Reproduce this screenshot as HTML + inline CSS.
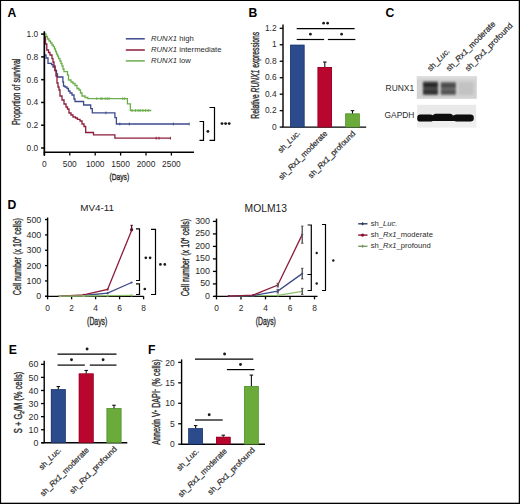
<!DOCTYPE html>
<html><head><meta charset="utf-8"><style>
html,body{margin:0;padding:0;background:#fff;}
body{width:520px;height:504px;overflow:hidden;}
svg{display:block;font-family:"Liberation Sans", sans-serif;}
text.sk{stroke:#2a2a2a;stroke-width:0.2px;paint-order:stroke;}
text.sk2{stroke:#2a2a2a;stroke-width:0.35px;paint-order:stroke;}
</style></head><body>
<svg width="520" height="504" viewBox="0 0 520 504">
<rect x="0" y="0" width="520" height="504" fill="#fff"/>
<text x="7.6" y="16.9" font-size="12.2" text-anchor="start" fill="#000" font-weight="bold" >A</text>
<line x1="44.4" y1="31.5" x2="44.4" y2="155.5" stroke="#000" stroke-width="1.4"/>
<line x1="43.8" y1="152.3" x2="194" y2="152.3" stroke="#000" stroke-width="1.4"/>
<line x1="41.1" y1="148.0" x2="44.4" y2="148.0" stroke="#000" stroke-width="1.5"/>
<text x="38.2" y="151.0" font-size="8.4" text-anchor="end" fill="#2a2a2a" font-weight="normal" >0.0</text>
<line x1="41.1" y1="125.22" x2="44.4" y2="125.22" stroke="#000" stroke-width="1.5"/>
<text x="38.2" y="128.22" font-size="8.4" text-anchor="end" fill="#2a2a2a" font-weight="normal" >0.2</text>
<line x1="41.1" y1="102.44" x2="44.4" y2="102.44" stroke="#000" stroke-width="1.5"/>
<text x="38.2" y="105.44" font-size="8.4" text-anchor="end" fill="#2a2a2a" font-weight="normal" >0.4</text>
<line x1="41.1" y1="79.65999999999998" x2="44.4" y2="79.65999999999998" stroke="#000" stroke-width="1.5"/>
<text x="38.2" y="82.65999999999998" font-size="8.4" text-anchor="end" fill="#2a2a2a" font-weight="normal" >0.6</text>
<line x1="41.1" y1="56.879999999999995" x2="44.4" y2="56.879999999999995" stroke="#000" stroke-width="1.5"/>
<text x="38.2" y="59.879999999999995" font-size="8.4" text-anchor="end" fill="#2a2a2a" font-weight="normal" >0.8</text>
<line x1="41.1" y1="34.099999999999994" x2="44.4" y2="34.099999999999994" stroke="#000" stroke-width="1.5"/>
<text x="38.2" y="37.099999999999994" font-size="8.4" text-anchor="end" fill="#2a2a2a" font-weight="normal" >1.0</text>
<line x1="44.4" y1="152.3" x2="44.4" y2="155.6" stroke="#000" stroke-width="1.3"/>
<text x="44.4" y="166.8" font-size="8.4" text-anchor="middle" fill="#2a2a2a" font-weight="normal" >0</text>
<line x1="69.8" y1="152.3" x2="69.8" y2="155.6" stroke="#000" stroke-width="1.3"/>
<text x="69.8" y="166.8" font-size="8.4" text-anchor="middle" fill="#2a2a2a" font-weight="normal" >500</text>
<line x1="95.19999999999999" y1="152.3" x2="95.19999999999999" y2="155.6" stroke="#000" stroke-width="1.3"/>
<text x="95.19999999999999" y="166.8" font-size="8.4" text-anchor="middle" fill="#2a2a2a" font-weight="normal" >1000</text>
<line x1="120.6" y1="152.3" x2="120.6" y2="155.6" stroke="#000" stroke-width="1.3"/>
<text x="120.6" y="166.8" font-size="8.4" text-anchor="middle" fill="#2a2a2a" font-weight="normal" >1500</text>
<line x1="146.0" y1="152.3" x2="146.0" y2="155.6" stroke="#000" stroke-width="1.3"/>
<text x="146.0" y="166.8" font-size="8.4" text-anchor="middle" fill="#2a2a2a" font-weight="normal" >2000</text>
<line x1="171.4" y1="152.3" x2="171.4" y2="155.6" stroke="#000" stroke-width="1.3"/>
<text x="171.4" y="166.8" font-size="8.4" text-anchor="middle" fill="#2a2a2a" font-weight="normal" >2500</text>
<text x="119.3" y="180.3" font-size="9.8" text-anchor="middle" fill="#2a2a2a" font-weight="normal" class="sk2" textLength="19.8" lengthAdjust="spacingAndGlyphs">(Days)</text>
<text transform="translate(19.9,91.85) rotate(-90)" x="0" y="0" font-size="10.0" text-anchor="middle" fill="#2a2a2a" textLength="66.5" lengthAdjust="spacingAndGlyphs" font-weight="normal" class="sk2">Proportion of survival</text>
<path d="M44.5,34H46V36.5H47.5V39H49V41H50.5V43H52V45H53.3V46.7H54.5V49H55.5V51.5H56.5V54H57.5V56H58.5V58.5H59.9V61H61V63.5H62V66H63V69H64V71.7H67.5V75H68.5V80H71V82H73V83.5H75V85.5H77V88.5H79V90H80.5V93H82V96H85V97.5H87.8V98.6H127.4V103.9H130.4V110.5H151.3V110.5" fill="none" stroke="#6cae4c" stroke-width="1.3" stroke-linejoin="miter"/>
<path d="M44.5,55H46V58H48V63.3H51.5V64.5H53V67H55V70.5H56.5V74H57.5V77H62.9V82H63.5V86H65V87H67V88.5H68.5V91H70V93H72V95H74V99H75V101.5H83.6V105H90.7V108.7H92.3V112.9H114.9V117.6H116.4V124.0H189.2V124.0" fill="none" stroke="#3d4a8c" stroke-width="1.3" stroke-linejoin="miter"/>
<path d="M44.5,37H45.5V44H46.8V50H48.5V52.5H50V55H52V58.6H53V62H54V66H55V70.5H56V76H57V83H58V87H59V90H60V96H62V100H64V104H66V107H67.5V109H69V113H71V115H73V117H75.5V118H77.4V119.4H80V121H82V124H84V126.5H85.7V132.5H93.5V134.9H114.9V138.2H170.5V138.2" fill="none" stroke="#8c1c3a" stroke-width="1.3" stroke-linejoin="miter"/>
<line x1="96.8" y1="97.19999999999999" x2="96.8" y2="100.0" stroke="#6cae4c" stroke-width="0.9"/>
<line x1="100.9" y1="97.19999999999999" x2="100.9" y2="100.0" stroke="#6cae4c" stroke-width="0.9"/>
<line x1="102.2" y1="97.19999999999999" x2="102.2" y2="100.0" stroke="#6cae4c" stroke-width="0.9"/>
<line x1="105.2" y1="97.19999999999999" x2="105.2" y2="100.0" stroke="#6cae4c" stroke-width="0.9"/>
<line x1="107.2" y1="97.19999999999999" x2="107.2" y2="100.0" stroke="#6cae4c" stroke-width="0.9"/>
<line x1="109" y1="97.19999999999999" x2="109" y2="100.0" stroke="#6cae4c" stroke-width="0.9"/>
<line x1="122.7" y1="97.19999999999999" x2="122.7" y2="100.0" stroke="#6cae4c" stroke-width="0.9"/>
<line x1="124.7" y1="97.19999999999999" x2="124.7" y2="100.0" stroke="#6cae4c" stroke-width="0.9"/>
<line x1="132.1" y1="109.1" x2="132.1" y2="111.9" stroke="#6cae4c" stroke-width="0.9"/>
<line x1="135.5" y1="109.1" x2="135.5" y2="111.9" stroke="#6cae4c" stroke-width="0.9"/>
<line x1="138.2" y1="109.1" x2="138.2" y2="111.9" stroke="#6cae4c" stroke-width="0.9"/>
<line x1="140.2" y1="109.1" x2="140.2" y2="111.9" stroke="#6cae4c" stroke-width="0.9"/>
<line x1="142.9" y1="109.1" x2="142.9" y2="111.9" stroke="#6cae4c" stroke-width="0.9"/>
<line x1="145.6" y1="109.1" x2="145.6" y2="111.9" stroke="#6cae4c" stroke-width="0.9"/>
<line x1="148.3" y1="109.1" x2="148.3" y2="111.9" stroke="#6cae4c" stroke-width="0.9"/>
<line x1="119.8" y1="122.6" x2="119.8" y2="125.4" stroke="#3d4a8c" stroke-width="0.9"/>
<line x1="129.3" y1="122.6" x2="129.3" y2="125.4" stroke="#3d4a8c" stroke-width="0.9"/>
<line x1="173.4" y1="122.6" x2="173.4" y2="125.4" stroke="#3d4a8c" stroke-width="0.9"/>
<line x1="189.2" y1="122.6" x2="189.2" y2="125.4" stroke="#3d4a8c" stroke-width="0.9"/>
<line x1="105.9" y1="111.5" x2="105.9" y2="114.30000000000001" stroke="#3d4a8c" stroke-width="0.9"/>
<line x1="156.2" y1="136.79999999999998" x2="156.2" y2="139.6" stroke="#8c1c3a" stroke-width="0.9"/>
<line x1="159" y1="136.79999999999998" x2="159" y2="139.6" stroke="#8c1c3a" stroke-width="0.9"/>
<line x1="170.5" y1="136.79999999999998" x2="170.5" y2="139.6" stroke="#8c1c3a" stroke-width="0.9"/>
<line x1="44.4" y1="31.5" x2="44.4" y2="155.5" stroke="#000" stroke-width="1.4"/>
<line x1="125.8" y1="38.8" x2="144.8" y2="38.8" stroke="#3d4a8c" stroke-width="1.5"/>
<text x="151.0" y="41.0" font-size="7.7" fill="#2a2a2a"><tspan font-style="italic">RUNX1</tspan> high</text>
<line x1="125.8" y1="50.0" x2="144.8" y2="50.0" stroke="#8c1c3a" stroke-width="1.5"/>
<text x="151.0" y="52.2" font-size="7.7" fill="#2a2a2a"><tspan font-style="italic">RUNX1</tspan> intermediate</text>
<line x1="125.8" y1="60.9" x2="144.8" y2="60.9" stroke="#6cae4c" stroke-width="1.5"/>
<text x="151.0" y="63.1" font-size="7.7" fill="#2a2a2a"><tspan font-style="italic">RUNX1</tspan> low</text>
<path d="M199.5,121.5H203.5V140.3H199.5" fill="none" stroke="#000" stroke-width="1.2"/>
<circle cx="207.9" cy="131.4" r="1.45" fill="#1a1a1a"/>
<path d="M209.5,107.5H214.5V140.3H209.5" fill="none" stroke="#000" stroke-width="1.2"/>
<circle cx="222" cy="123.6" r="1.45" fill="#1a1a1a"/>
<circle cx="225.6" cy="123.6" r="1.45" fill="#1a1a1a"/>
<circle cx="229.2" cy="123.6" r="1.45" fill="#1a1a1a"/>
<text x="248.4" y="16.9" font-size="12.2" text-anchor="start" fill="#000" font-weight="bold" >B</text>
<line x1="283.0" y1="24.6" x2="283.0" y2="127.1" stroke="#000" stroke-width="1.4"/>
<line x1="282.5" y1="127.1" x2="366.2" y2="127.1" stroke="#000" stroke-width="1.4"/>
<line x1="279.7" y1="127.1" x2="283.0" y2="127.1" stroke="#000" stroke-width="1.3"/>
<text x="276.6" y="129.79999999999998" font-size="8.4" text-anchor="end" fill="#2a2a2a" font-weight="normal" >0</text>
<line x1="279.7" y1="110.63333333333333" x2="283.0" y2="110.63333333333333" stroke="#000" stroke-width="1.3"/>
<text x="276.6" y="113.33333333333333" font-size="8.4" text-anchor="end" fill="#2a2a2a" font-weight="normal" >0.2</text>
<line x1="279.7" y1="94.16666666666666" x2="283.0" y2="94.16666666666666" stroke="#000" stroke-width="1.3"/>
<text x="276.6" y="96.86666666666666" font-size="8.4" text-anchor="end" fill="#2a2a2a" font-weight="normal" >0.4</text>
<line x1="279.7" y1="77.69999999999999" x2="283.0" y2="77.69999999999999" stroke="#000" stroke-width="1.3"/>
<text x="276.6" y="80.39999999999999" font-size="8.4" text-anchor="end" fill="#2a2a2a" font-weight="normal" >0.6</text>
<line x1="279.7" y1="61.233333333333334" x2="283.0" y2="61.233333333333334" stroke="#000" stroke-width="1.3"/>
<text x="276.6" y="63.93333333333334" font-size="8.4" text-anchor="end" fill="#2a2a2a" font-weight="normal" >0.8</text>
<line x1="279.7" y1="44.766666666666666" x2="283.0" y2="44.766666666666666" stroke="#000" stroke-width="1.3"/>
<text x="276.6" y="47.46666666666667" font-size="8.4" text-anchor="end" fill="#2a2a2a" font-weight="normal" >1</text>
<line x1="279.7" y1="28.299999999999997" x2="283.0" y2="28.299999999999997" stroke="#000" stroke-width="1.3"/>
<text x="276.6" y="30.999999999999996" font-size="8.4" text-anchor="end" fill="#2a2a2a" font-weight="normal" >1.2</text>
<rect x="290.1" y="44.766666666666666" width="14.4" height="82.33333333333333" fill="#2b4b8c"/>
<rect x="290.45" y="45.12" width="13.70" height="81.98" fill="none" stroke="#1d3564" stroke-width="0.7" opacity="0.8"/>
<rect x="317.6" y="66.99666666666667" width="14.4" height="60.103333333333325" fill="#b8062e"/>
<rect x="317.95" y="67.35" width="13.70" height="59.75" fill="none" stroke="#8e0420" stroke-width="0.7" opacity="0.8"/>
<line x1="324.8" y1="62.05666666666667" x2="324.8" y2="66.99666666666667" stroke="#111" stroke-width="1.1"/>
<line x1="323.05" y1="62.05666666666667" x2="326.55" y2="62.05666666666667" stroke="#111" stroke-width="1.1"/>
<rect x="345.3" y="113.515" width="14.4" height="13.584999999999994" fill="#6aab3c"/>
<rect x="345.65" y="113.86" width="13.70" height="13.23" fill="none" stroke="#4e8a2a" stroke-width="0.7" opacity="0.8"/>
<line x1="352.5" y1="110.63333333333334" x2="352.5" y2="113.515" stroke="#111" stroke-width="1.1"/>
<line x1="350.75" y1="110.63333333333334" x2="354.25" y2="110.63333333333334" stroke="#111" stroke-width="1.1"/>
<line x1="296.7" y1="28.6" x2="354.6" y2="28.6" stroke="#000" stroke-width="1.2"/>
<line x1="296.7" y1="39.5" x2="324.1" y2="39.5" stroke="#000" stroke-width="1.2"/>
<line x1="327.9" y1="39.5" x2="355.4" y2="39.5" stroke="#000" stroke-width="1.2"/>
<circle cx="323.6" cy="23.2" r="1.35" fill="#1a1a1a"/>
<circle cx="327.6" cy="23.2" r="1.35" fill="#1a1a1a"/>
<circle cx="310.4" cy="34.2" r="1.35" fill="#1a1a1a"/>
<circle cx="341.6" cy="34.2" r="1.35" fill="#1a1a1a"/>
<text transform="translate(258.7,75.25) rotate(-90)" x="0" y="0" font-size="10.2" text-anchor="middle" fill="#2a2a2a" textLength="86.8" lengthAdjust="spacingAndGlyphs" font-weight="normal" class="sk2">Relative <tspan font-style="italic">RUNX1</tspan> expressions</text>
<text class="sk" transform="translate(300.8,133.5) rotate(-45)" x="0" y="0" font-size="8" text-anchor="end" fill="#2a2a2a">sh_<tspan font-style="italic">Luc.</tspan></text>
<text class="sk" transform="translate(328.0,134.0) rotate(-45)" x="0" y="0" font-size="8" text-anchor="end" fill="#2a2a2a">sh_<tspan font-style="italic">Rx1</tspan>_moderate</text>
<text class="sk" transform="translate(356.0,134.0) rotate(-45)" x="0" y="0" font-size="8" text-anchor="end" fill="#2a2a2a">sh_<tspan font-style="italic">Rx1</tspan>_profound</text>
<text x="385.6" y="16.9" font-size="12.2" text-anchor="start" fill="#000" font-weight="bold" >C</text>
<text class="sk" transform="translate(430.5,71.8) rotate(-45.5)" x="0" y="0" font-size="8.15" text-anchor="start" fill="#2a2a2a">sh_<tspan font-style="italic">Luc.</tspan></text>
<text class="sk" transform="translate(449.3,71.8) rotate(-45.5)" x="0" y="0" font-size="8.15" text-anchor="start" fill="#2a2a2a">sh_<tspan font-style="italic">Rx1</tspan>_moderate</text>
<text class="sk" transform="translate(468.2,71.8) rotate(-45.5)" x="0" y="0" font-size="8.15" text-anchor="start" fill="#2a2a2a">sh_<tspan font-style="italic">Rx1</tspan>_profound</text>
<text x="385.6" y="91.0" font-size="8.45" text-anchor="start" fill="#2a2a2a" font-weight="normal" >RUNX1</text>
<text x="384.6" y="118.4" font-size="8.4" text-anchor="start" fill="#2a2a2a" font-weight="normal" >GAPDH</text>
<defs>
<linearGradient id="bg1" x1="0" y1="0" x2="0" y2="1"><stop offset="0" stop-color="#d9d9d9"/><stop offset="1" stop-color="#e6e6e6"/></linearGradient>
<linearGradient id="bg2" x1="0" y1="0" x2="0" y2="1"><stop offset="0" stop-color="#e4e4e4"/><stop offset="1" stop-color="#ececec"/></linearGradient>
<filter id="blur1" x="-20%" y="-50%" width="140%" height="200%"><feGaussianBlur stdDeviation="1.0"/></filter>
<filter id="blur2" x="-20%" y="-50%" width="140%" height="200%"><feGaussianBlur stdDeviation="0.6"/></filter>
</defs>
<rect x="416.8" y="76.5" width="60" height="22.3" fill="#d2d2d2"/>
<rect x="416.8" y="76.5" width="60" height="3" fill="#dadada"/>
<g filter="url(#blur1)">
<rect x="423" y="81.5" width="15" height="13.5" fill="#4a4a4a"/>
<rect x="423" y="83" width="15" height="4" fill="#262626"/>
<rect x="423" y="90" width="15" height="4" fill="#303030"/>
<rect x="440.8" y="82" width="15" height="13" fill="#6c6c6c"/>
<rect x="440.8" y="83.5" width="15" height="4" fill="#4a4a4a"/>
<rect x="440.8" y="90" width="15" height="4" fill="#555"/>
<rect x="458.5" y="82" width="15" height="13" fill="#c2c2c2"/>
</g>
<rect x="417.2" y="104.8" width="59" height="22.5" fill="#e9e9e9"/>
<rect x="417.2" y="121" width="59" height="6.3" fill="#efefef"/>
<g filter="url(#blur2)">
<rect x="417.2" y="114.6" width="16.3" height="7.0" rx="3.2" fill="#0a0a0a"/>
<rect x="432.8" y="113.7" width="20.2" height="7.2" rx="3.2" fill="#0a0a0a"/>
<rect x="453.2" y="114.5" width="20.6" height="7.0" rx="3.3" fill="#0a0a0a"/>
<rect x="420" y="115.5" width="50" height="5.5" fill="#0a0a0a"/>
</g>
<text x="7.6" y="209.1" font-size="12.2" text-anchor="start" fill="#000" font-weight="bold" >D</text>
<text x="97.2" y="211.3" font-size="9.9" text-anchor="middle" fill="#222" font-weight="normal" >MV4-11</text>
<line x1="47.6" y1="217.5" x2="47.6" y2="296.3" stroke="#000" stroke-width="1.45"/>
<line x1="45.0" y1="296.3" x2="143.5" y2="296.3" stroke="#000" stroke-width="1.35"/>
<line x1="45.0" y1="296.3" x2="47.6" y2="296.3" stroke="#000" stroke-width="1.3"/>
<text x="41.3" y="299.40000000000003" font-size="8.9" text-anchor="end" fill="#2a2a2a" font-weight="normal" >0</text>
<line x1="45.0" y1="280.95" x2="47.6" y2="280.95" stroke="#000" stroke-width="1.3"/>
<text x="41.3" y="284.05" font-size="8.9" text-anchor="end" fill="#2a2a2a" font-weight="normal" >100</text>
<line x1="45.0" y1="265.6" x2="47.6" y2="265.6" stroke="#000" stroke-width="1.3"/>
<text x="41.3" y="268.70000000000005" font-size="8.9" text-anchor="end" fill="#2a2a2a" font-weight="normal" >200</text>
<line x1="45.0" y1="250.25" x2="47.6" y2="250.25" stroke="#000" stroke-width="1.3"/>
<text x="41.3" y="253.35" font-size="8.9" text-anchor="end" fill="#2a2a2a" font-weight="normal" >300</text>
<line x1="45.0" y1="234.9" x2="47.6" y2="234.9" stroke="#000" stroke-width="1.3"/>
<text x="41.3" y="238.0" font-size="8.9" text-anchor="end" fill="#2a2a2a" font-weight="normal" >400</text>
<line x1="45.0" y1="219.55" x2="47.6" y2="219.55" stroke="#000" stroke-width="1.3"/>
<text x="41.3" y="222.65" font-size="8.9" text-anchor="end" fill="#2a2a2a" font-weight="normal" >500</text>
<line x1="47.6" y1="296.3" x2="47.6" y2="299.3" stroke="#000" stroke-width="1.3"/>
<text x="47.6" y="310.8" font-size="8.4" text-anchor="middle" fill="#2a2a2a" font-weight="normal" >0</text>
<line x1="71.6" y1="296.3" x2="71.6" y2="299.3" stroke="#000" stroke-width="1.3"/>
<text x="71.6" y="310.8" font-size="8.4" text-anchor="middle" fill="#2a2a2a" font-weight="normal" >2</text>
<line x1="95.6" y1="296.3" x2="95.6" y2="299.3" stroke="#000" stroke-width="1.3"/>
<text x="95.6" y="310.8" font-size="8.4" text-anchor="middle" fill="#2a2a2a" font-weight="normal" >4</text>
<line x1="119.6" y1="296.3" x2="119.6" y2="299.3" stroke="#000" stroke-width="1.3"/>
<text x="119.6" y="310.8" font-size="8.4" text-anchor="middle" fill="#2a2a2a" font-weight="normal" >6</text>
<line x1="143.6" y1="296.3" x2="143.6" y2="299.3" stroke="#000" stroke-width="1.3"/>
<text x="143.6" y="310.8" font-size="8.4" text-anchor="middle" fill="#2a2a2a" font-weight="normal" >8</text>
<text x="97.2" y="324.7" font-size="10.4" text-anchor="middle" fill="#2a2a2a" font-weight="normal" class="sk2" textLength="20.2" lengthAdjust="spacingAndGlyphs">(Days)</text>
<text transform="translate(20.6,256.65) rotate(-90)" x="0" y="0" font-size="10.2" text-anchor="middle" fill="#2a2a2a" textLength="77" lengthAdjust="spacingAndGlyphs" font-weight="normal" class="sk2">Cell number (x 10<tspan font-size="6" dy="-3.5">4</tspan><tspan dy="3.5"> cells)</tspan></text>
<path d="M59.6,296.1 L83.6,295.5 L107.6,293.2 L131.6,282.5" fill="none" stroke="#3d4a8c" stroke-width="1.3"/>
<circle cx="59.6" cy="296.1" r="1.1" fill="#3d4a8c"/>
<circle cx="83.6" cy="295.5" r="1.1" fill="#3d4a8c"/>
<circle cx="107.6" cy="293.2" r="1.1" fill="#3d4a8c"/>
<circle cx="131.6" cy="282.5" r="1.1" fill="#3d4a8c"/>
<path d="M59.6,296.1 L83.6,294.8 L107.6,289.4 L131.6,230.4" fill="none" stroke="#8c1c3a" stroke-width="1.3"/>
<circle cx="59.6" cy="296.1" r="1.1" fill="#8c1c3a"/>
<circle cx="83.6" cy="294.8" r="1.1" fill="#8c1c3a"/>
<circle cx="107.6" cy="289.4" r="1.1" fill="#8c1c3a"/>
<circle cx="131.6" cy="230.4" r="1.1" fill="#8c1c3a"/>
<path d="M59.6,296.1 L83.6,296.0 L107.6,295.7 L131.6,295.4" fill="none" stroke="#8fbf6a" stroke-width="1.3"/>
<circle cx="59.6" cy="296.1" r="1.1" fill="#8fbf6a"/>
<circle cx="83.6" cy="296.0" r="1.1" fill="#8fbf6a"/>
<circle cx="107.6" cy="295.7" r="1.1" fill="#8fbf6a"/>
<circle cx="131.6" cy="295.4" r="1.1" fill="#8fbf6a"/>
<line x1="131.6" y1="225.38300000000004" x2="131.6" y2="230.44850000000002" stroke="#4a1424" stroke-width="1.3"/>
<line x1="130.5" y1="225.38300000000004" x2="132.7" y2="225.38300000000004" stroke="#4a1424" stroke-width="1.2"/>
<circle cx="131.6" cy="229.6" r="1.6" fill="#5a1428"/>
<path d="M136.0,228.8H139.5V280.5H136.0" fill="none" stroke="#000" stroke-width="1.2"/>
<path d="M136.0,283.8H139.5V294.5H136.0" fill="none" stroke="#000" stroke-width="1.2"/>
<path d="M151.0,229.3H155.5V294.5H151.0" fill="none" stroke="#000" stroke-width="1.2"/>
<circle cx="145.8" cy="257.8" r="1.35" fill="#1a1a1a"/>
<circle cx="150.1" cy="257.8" r="1.35" fill="#1a1a1a"/>
<circle cx="144.8" cy="289" r="1.35" fill="#1a1a1a"/>
<circle cx="160.4" cy="264.4" r="1.35" fill="#1a1a1a"/>
<circle cx="164.8" cy="264.4" r="1.35" fill="#1a1a1a"/>
<text x="265.8" y="211.8" font-size="10.3" text-anchor="middle" fill="#222" font-weight="normal" >MOLM13</text>
<line x1="216.5" y1="218.6" x2="216.5" y2="296.4" stroke="#000" stroke-width="1.45"/>
<line x1="213.9" y1="296.4" x2="317.5" y2="296.4" stroke="#000" stroke-width="1.35"/>
<line x1="212.9" y1="296.4" x2="216.5" y2="296.4" stroke="#000" stroke-width="1.3"/>
<text x="210.0" y="298.9" font-size="8.9" text-anchor="end" fill="#2a2a2a" font-weight="normal" >0</text>
<line x1="212.9" y1="283.9" x2="216.5" y2="283.9" stroke="#000" stroke-width="1.3"/>
<text x="210.0" y="286.4" font-size="8.9" text-anchor="end" fill="#2a2a2a" font-weight="normal" >50</text>
<line x1="212.9" y1="271.4" x2="216.5" y2="271.4" stroke="#000" stroke-width="1.3"/>
<text x="210.0" y="273.9" font-size="8.9" text-anchor="end" fill="#2a2a2a" font-weight="normal" >100</text>
<line x1="212.9" y1="258.9" x2="216.5" y2="258.9" stroke="#000" stroke-width="1.3"/>
<text x="210.0" y="261.4" font-size="8.9" text-anchor="end" fill="#2a2a2a" font-weight="normal" >150</text>
<line x1="212.9" y1="246.39999999999998" x2="216.5" y2="246.39999999999998" stroke="#000" stroke-width="1.3"/>
<text x="210.0" y="248.89999999999998" font-size="8.9" text-anchor="end" fill="#2a2a2a" font-weight="normal" >200</text>
<line x1="212.9" y1="233.89999999999998" x2="216.5" y2="233.89999999999998" stroke="#000" stroke-width="1.3"/>
<text x="210.0" y="236.39999999999998" font-size="8.9" text-anchor="end" fill="#2a2a2a" font-weight="normal" >250</text>
<line x1="212.9" y1="221.39999999999998" x2="216.5" y2="221.39999999999998" stroke="#000" stroke-width="1.3"/>
<text x="210.0" y="223.89999999999998" font-size="8.9" text-anchor="end" fill="#2a2a2a" font-weight="normal" >300</text>
<line x1="216.5" y1="296.4" x2="216.5" y2="299.4" stroke="#000" stroke-width="1.3"/>
<text x="216.5" y="310.8" font-size="8.4" text-anchor="middle" fill="#2a2a2a" font-weight="normal" >0</text>
<line x1="241.0" y1="296.4" x2="241.0" y2="299.4" stroke="#000" stroke-width="1.3"/>
<text x="241.0" y="310.8" font-size="8.4" text-anchor="middle" fill="#2a2a2a" font-weight="normal" >2</text>
<line x1="265.5" y1="296.4" x2="265.5" y2="299.4" stroke="#000" stroke-width="1.3"/>
<text x="265.5" y="310.8" font-size="8.4" text-anchor="middle" fill="#2a2a2a" font-weight="normal" >4</text>
<line x1="290.0" y1="296.4" x2="290.0" y2="299.4" stroke="#000" stroke-width="1.3"/>
<text x="290.0" y="310.8" font-size="8.4" text-anchor="middle" fill="#2a2a2a" font-weight="normal" >6</text>
<line x1="314.5" y1="296.4" x2="314.5" y2="299.4" stroke="#000" stroke-width="1.3"/>
<text x="314.5" y="310.8" font-size="8.4" text-anchor="middle" fill="#2a2a2a" font-weight="normal" >8</text>
<text x="265.8" y="324.7" font-size="10.4" text-anchor="middle" fill="#2a2a2a" font-weight="normal" class="sk2" textLength="20.2" lengthAdjust="spacingAndGlyphs">(Days)</text>
<text transform="translate(188.8,257.6) rotate(-90)" x="0" y="0" font-size="10.2" text-anchor="middle" fill="#2a2a2a" textLength="77.5" lengthAdjust="spacingAndGlyphs" font-weight="normal" class="sk2">Cell number (x 10<tspan font-size="6" dy="-3.5">4</tspan><tspan dy="3.5"> cells)</tspan></text>
<path d="M228.8,296.1 L253.2,295.6 L277.8,295.4 L302.2,291.4" fill="none" stroke="#8fbf6a" stroke-width="1.3"/>
<circle cx="228.8" cy="296.1" r="1.1" fill="#8fbf6a"/>
<circle cx="253.2" cy="295.6" r="1.1" fill="#8fbf6a"/>
<circle cx="277.8" cy="295.4" r="1.1" fill="#8fbf6a"/>
<circle cx="302.2" cy="291.4" r="1.1" fill="#8fbf6a"/>
<line x1="302.25" y1="288.4" x2="302.25" y2="294.4" stroke="#5a5a5a" stroke-width="1.4"/>
<line x1="301.05" y1="288.4" x2="303.45" y2="288.4" stroke="#5a5a5a" stroke-width="1.1"/>
<line x1="301.05" y1="294.4" x2="303.45" y2="294.4" stroke="#5a5a5a" stroke-width="1.1"/>
<path d="M228.8,296.1 L253.2,295.6 L277.8,291.1 L302.2,273.6" fill="none" stroke="#3d4a8c" stroke-width="1.3"/>
<circle cx="228.8" cy="296.1" r="1.1" fill="#3d4a8c"/>
<circle cx="253.2" cy="295.6" r="1.1" fill="#3d4a8c"/>
<circle cx="277.8" cy="291.1" r="1.1" fill="#3d4a8c"/>
<circle cx="302.2" cy="273.6" r="1.1" fill="#3d4a8c"/>
<line x1="277.75" y1="289.4" x2="277.75" y2="292.9" stroke="#5a5a5a" stroke-width="1.4"/>
<line x1="276.55" y1="289.4" x2="278.95" y2="289.4" stroke="#5a5a5a" stroke-width="1.1"/>
<line x1="276.55" y1="292.9" x2="278.95" y2="292.9" stroke="#5a5a5a" stroke-width="1.1"/>
<line x1="302.25" y1="268.4" x2="302.25" y2="278.9" stroke="#5a5a5a" stroke-width="1.4"/>
<line x1="301.05" y1="268.4" x2="303.45" y2="268.4" stroke="#5a5a5a" stroke-width="1.1"/>
<line x1="301.05" y1="278.9" x2="303.45" y2="278.9" stroke="#5a5a5a" stroke-width="1.1"/>
<path d="M228.8,296.1 L253.2,295.1 L277.8,285.1 L302.2,234.6" fill="none" stroke="#8c1c3a" stroke-width="1.3"/>
<circle cx="228.8" cy="296.1" r="1.1" fill="#8c1c3a"/>
<circle cx="253.2" cy="295.1" r="1.1" fill="#8c1c3a"/>
<circle cx="277.8" cy="285.1" r="1.1" fill="#8c1c3a"/>
<circle cx="302.2" cy="234.6" r="1.1" fill="#8c1c3a"/>
<line x1="277.75" y1="283.4" x2="277.75" y2="286.9" stroke="#5a5a5a" stroke-width="1.4"/>
<line x1="276.55" y1="283.4" x2="278.95" y2="283.4" stroke="#5a5a5a" stroke-width="1.1"/>
<line x1="276.55" y1="286.9" x2="278.95" y2="286.9" stroke="#5a5a5a" stroke-width="1.1"/>
<line x1="302.25" y1="226.14999999999998" x2="302.25" y2="243.14999999999998" stroke="#5a5a5a" stroke-width="1.4"/>
<line x1="301.05" y1="226.14999999999998" x2="303.45" y2="226.14999999999998" stroke="#5a5a5a" stroke-width="1.1"/>
<line x1="301.05" y1="243.14999999999998" x2="303.45" y2="243.14999999999998" stroke="#5a5a5a" stroke-width="1.1"/>
<path d="M307.6,225H311.3V274.5H307.6" fill="none" stroke="#000" stroke-width="1.2"/>
<path d="M307.6,274.5H311.3V290.5H307.6" fill="none" stroke="#000" stroke-width="1.2"/>
<path d="M322.0,224.5H325.5V290.5H322.0" fill="none" stroke="#000" stroke-width="1.2"/>
<circle cx="316.7" cy="253" r="1.2" fill="#1a1a1a"/>
<circle cx="316.7" cy="283.5" r="1.2" fill="#1a1a1a"/>
<circle cx="333.3" cy="260.5" r="1.2" fill="#1a1a1a"/>
<line x1="358.2" y1="223.8" x2="367.5" y2="223.8" stroke="#2e4060" stroke-width="1.4"/>
<path d="M362.6,222.0L364.2,223.8L362.6,225.60000000000002L361,223.8Z" fill="#2e4060"/>
<text x="370.8" y="225.8" font-size="7.6" fill="#2a2a2a">sh_<tspan font-style="italic">Luc.</tspan></text>
<line x1="358.2" y1="235.1" x2="367.5" y2="235.1" stroke="#8a1030" stroke-width="1.4"/>
<circle cx="362.6" cy="235.1" r="1.6" fill="#8a1030"/>
<text x="370.8" y="237.1" font-size="7.6" fill="#2a2a2a">sh_<tspan font-style="italic">Rx1</tspan>_moderate</text>
<line x1="358.2" y1="246.3" x2="367.5" y2="246.3" stroke="#7a9a6a" stroke-width="1.4"/>
<path d="M362.6,244.5L364.2,246.3L362.6,248.10000000000002L361,246.3Z" fill="#7a9a6a"/>
<text x="370.8" y="248.3" font-size="7.6" fill="#2a2a2a">sh_<tspan font-style="italic">Rx1</tspan>_profound</text>
<text x="8.7" y="353.9" font-size="12.2" text-anchor="start" fill="#000" font-weight="bold" >E</text>
<line x1="44.2" y1="360.8" x2="44.2" y2="442.8" stroke="#000" stroke-width="1.4"/>
<line x1="41.7" y1="442.8" x2="127.3" y2="442.8" stroke="#000" stroke-width="1.4"/>
<line x1="41.0" y1="442.8" x2="44.2" y2="442.8" stroke="#000" stroke-width="1.3"/>
<text x="38.3" y="445.90000000000003" font-size="8.8" text-anchor="end" fill="#2a2a2a" font-weight="normal" >0</text>
<line x1="41.0" y1="429.72" x2="44.2" y2="429.72" stroke="#000" stroke-width="1.3"/>
<text x="38.3" y="432.82000000000005" font-size="8.8" text-anchor="end" fill="#2a2a2a" font-weight="normal" >10</text>
<line x1="41.0" y1="416.64" x2="44.2" y2="416.64" stroke="#000" stroke-width="1.3"/>
<text x="38.3" y="419.74" font-size="8.8" text-anchor="end" fill="#2a2a2a" font-weight="normal" >20</text>
<line x1="41.0" y1="403.56" x2="44.2" y2="403.56" stroke="#000" stroke-width="1.3"/>
<text x="38.3" y="406.66" font-size="8.8" text-anchor="end" fill="#2a2a2a" font-weight="normal" >30</text>
<line x1="41.0" y1="390.48" x2="44.2" y2="390.48" stroke="#000" stroke-width="1.3"/>
<text x="38.3" y="393.58000000000004" font-size="8.8" text-anchor="end" fill="#2a2a2a" font-weight="normal" >40</text>
<line x1="41.0" y1="377.4" x2="44.2" y2="377.4" stroke="#000" stroke-width="1.3"/>
<text x="38.3" y="380.5" font-size="8.8" text-anchor="end" fill="#2a2a2a" font-weight="normal" >50</text>
<line x1="41.0" y1="364.32" x2="44.2" y2="364.32" stroke="#000" stroke-width="1.3"/>
<text x="38.3" y="367.42" font-size="8.8" text-anchor="end" fill="#2a2a2a" font-weight="normal" >60</text>
<rect x="50.9" y="389.172" width="14.8" height="53.627999999999986" fill="#2b4b8c"/>
<rect x="51.25" y="389.52" width="14.10" height="53.28" fill="none" stroke="#1d3564" stroke-width="0.7" opacity="0.8"/>
<line x1="58.3" y1="386.55600000000004" x2="58.3" y2="389.172" stroke="#111" stroke-width="1.1"/>
<line x1="56.55" y1="386.55600000000004" x2="60.05" y2="386.55600000000004" stroke="#111" stroke-width="1.1"/>
<rect x="78.8" y="373.476" width="14.8" height="69.32400000000001" fill="#b8062e"/>
<rect x="79.15" y="373.83" width="14.10" height="68.97" fill="none" stroke="#8e0420" stroke-width="0.7" opacity="0.8"/>
<line x1="86.2" y1="370.4676" x2="86.2" y2="373.476" stroke="#111" stroke-width="1.1"/>
<line x1="84.45" y1="370.4676" x2="87.95" y2="370.4676" stroke="#111" stroke-width="1.1"/>
<rect x="106.6" y="408.13800000000003" width="14.8" height="34.66199999999998" fill="#6aab3c"/>
<rect x="106.95" y="408.49" width="14.10" height="34.31" fill="none" stroke="#4e8a2a" stroke-width="0.7" opacity="0.8"/>
<line x1="114.0" y1="405.26040000000006" x2="114.0" y2="408.13800000000003" stroke="#111" stroke-width="1.1"/>
<line x1="112.25" y1="405.26040000000006" x2="115.75" y2="405.26040000000006" stroke="#111" stroke-width="1.1"/>
<line x1="57.5" y1="354.2" x2="116.5" y2="354.2" stroke="#000" stroke-width="1.2"/>
<line x1="57.5" y1="365.1" x2="84.8" y2="365.1" stroke="#000" stroke-width="1.2"/>
<line x1="89.8" y1="365.1" x2="116.5" y2="365.1" stroke="#000" stroke-width="1.2"/>
<circle cx="87.1" cy="349" r="1.45" fill="#1a1a1a"/>
<circle cx="71.5" cy="359.75" r="1.45" fill="#1a1a1a"/>
<circle cx="103.1" cy="359.75" r="1.45" fill="#1a1a1a"/>
<text transform="translate(21.7,402.5) rotate(-90)" x="0" y="0" font-size="10.2" text-anchor="middle" fill="#2a2a2a" textLength="61.4" lengthAdjust="spacingAndGlyphs" font-weight="normal" class="sk2">S + G<tspan font-size="6" dy="2">2</tspan><tspan dy="-2">/M (% cells)</tspan></text>
<text class="sk" transform="translate(61.8,450.5) rotate(-45)" x="0" y="0" font-size="8" text-anchor="end" fill="#2a2a2a">sh_<tspan font-style="italic">Luc.</tspan></text>
<text class="sk" transform="translate(89.5,450.5) rotate(-45)" x="0" y="0" font-size="8" text-anchor="end" fill="#2a2a2a">sh_<tspan font-style="italic">Rx1</tspan>_moderate</text>
<text class="sk" transform="translate(117.5,449.5) rotate(-45)" x="0" y="0" font-size="8" text-anchor="end" fill="#2a2a2a">sh_<tspan font-style="italic">Rx1</tspan>_profound</text>
<text x="148.0" y="354.3" font-size="12.2" text-anchor="start" fill="#000" font-weight="bold" >F</text>
<line x1="181.6" y1="359.4" x2="181.6" y2="444.2" stroke="#000" stroke-width="1.4"/>
<line x1="181.0" y1="444.2" x2="265" y2="444.2" stroke="#000" stroke-width="1.4"/>
<line x1="178.2" y1="444.2" x2="181.6" y2="444.2" stroke="#000" stroke-width="1.3"/>
<text x="174.8" y="447.3" font-size="8.5" text-anchor="end" fill="#2a2a2a" font-weight="normal" >0</text>
<line x1="178.2" y1="423.75" x2="181.6" y2="423.75" stroke="#000" stroke-width="1.3"/>
<text x="174.8" y="426.85" font-size="8.5" text-anchor="end" fill="#2a2a2a" font-weight="normal" >5</text>
<line x1="178.2" y1="403.29999999999995" x2="181.6" y2="403.29999999999995" stroke="#000" stroke-width="1.3"/>
<text x="174.8" y="406.4" font-size="8.5" text-anchor="end" fill="#2a2a2a" font-weight="normal" >10</text>
<line x1="178.2" y1="382.84999999999997" x2="181.6" y2="382.84999999999997" stroke="#000" stroke-width="1.3"/>
<text x="174.8" y="385.95" font-size="8.5" text-anchor="end" fill="#2a2a2a" font-weight="normal" >15</text>
<line x1="178.2" y1="362.4" x2="181.6" y2="362.4" stroke="#000" stroke-width="1.3"/>
<text x="174.8" y="365.5" font-size="8.5" text-anchor="end" fill="#2a2a2a" font-weight="normal" >20</text>
<rect x="188.29999999999998" y="428.24899999999997" width="14.6" height="15.951000000000022" fill="#2b4b8c"/>
<rect x="188.65" y="428.60" width="13.90" height="15.60" fill="none" stroke="#1d3564" stroke-width="0.7" opacity="0.8"/>
<line x1="195.6" y1="425.59049999999996" x2="195.6" y2="428.24899999999997" stroke="#111" stroke-width="1.1"/>
<line x1="193.85" y1="425.59049999999996" x2="197.35" y2="425.59049999999996" stroke="#111" stroke-width="1.1"/>
<rect x="216.0" y="436.83799999999997" width="14.6" height="7.362000000000023" fill="#b8062e"/>
<rect x="216.35" y="437.19" width="13.90" height="7.01" fill="none" stroke="#8e0420" stroke-width="0.7" opacity="0.8"/>
<line x1="223.3" y1="435.20199999999994" x2="223.3" y2="436.83799999999997" stroke="#111" stroke-width="1.1"/>
<line x1="221.55" y1="435.20199999999994" x2="225.05" y2="435.20199999999994" stroke="#111" stroke-width="1.1"/>
<rect x="244.1" y="386.12199999999996" width="14.6" height="58.07800000000003" fill="#6aab3c"/>
<rect x="244.45" y="386.47" width="13.90" height="57.73" fill="none" stroke="#4e8a2a" stroke-width="0.7" opacity="0.8"/>
<line x1="251.4" y1="375.07899999999995" x2="251.4" y2="386.12199999999996" stroke="#111" stroke-width="1.1"/>
<line x1="249.65" y1="375.07899999999995" x2="253.15" y2="375.07899999999995" stroke="#111" stroke-width="1.1"/>
<line x1="195" y1="359.2" x2="253.3" y2="359.2" stroke="#000" stroke-width="1.2"/>
<line x1="226.9" y1="369.6" x2="254.4" y2="369.6" stroke="#000" stroke-width="1.2"/>
<line x1="195" y1="420" x2="222.7" y2="420" stroke="#000" stroke-width="1.2"/>
<circle cx="224.6" cy="354" r="1.45" fill="#1a1a1a"/>
<circle cx="240.5" cy="364.5" r="1.45" fill="#1a1a1a"/>
<circle cx="209.2" cy="414.8" r="1.45" fill="#1a1a1a"/>
<text transform="translate(160.1,402.05) rotate(-90)" x="0" y="0" font-size="10.4" text-anchor="middle" fill="#2a2a2a" textLength="85.3" lengthAdjust="spacingAndGlyphs" font-weight="normal" class="sk2">Annexin V<tspan font-size="6" dy="-3.5">+</tspan><tspan dy="3.5"> DAPI</tspan><tspan font-size="6" dy="-3.5">−</tspan><tspan dy="3.5"> (% cells)</tspan></text>
<text class="sk" transform="translate(199.5,451.5) rotate(-45)" x="0" y="0" font-size="8" text-anchor="end" fill="#2a2a2a">sh_<tspan font-style="italic">Luc.</tspan></text>
<text class="sk" transform="translate(227.5,451.5) rotate(-45)" x="0" y="0" font-size="8" text-anchor="end" fill="#2a2a2a">sh_<tspan font-style="italic">Rx1</tspan>_moderate</text>
<text class="sk" transform="translate(255.5,450.5) rotate(-45)" x="0" y="0" font-size="8" text-anchor="end" fill="#2a2a2a">sh_<tspan font-style="italic">Rx1</tspan>_profound</text>
<rect x="0" y="0" width="520" height="1" fill="#000"/>
<rect x="0" y="0" width="1.1" height="504" fill="#000"/>
<rect x="518.75" y="0" width="1.25" height="504" fill="#000"/>
<rect x="0" y="502.7" width="520" height="1.3" fill="#000"/>
</svg>
</body></html>
